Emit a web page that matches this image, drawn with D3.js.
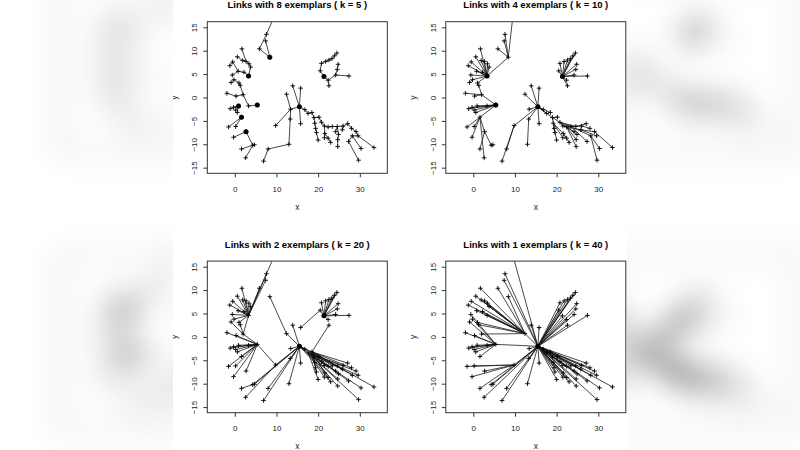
<!DOCTYPE html>
<html>
<head>
<meta charset="utf-8">
<script src="https://cdnjs.cloudflare.com/ajax/libs/d3/7.8.5/d3.min.js"></script>
<style>
  body { margin: 0; background: #fff; }
  svg { display: block; }
</style>
</head>
<body>
<script>
// point coordinates
const ptX = [3.3,1.7,0.6,-0.5,-1.2,1.9,2.7,3.4,3.8,0.8,2.2,-0.6,-0.2,1.0,-0.9,1.3,
  8.4,7.6,7.4,5.9,9.5,
  0.9,5.4,1.6,-1.9,0.3,2.0,3.3,-1.1,-0.3,0.2,0.6,
  2.7,-1.5,0.2,-0.3,1.6,2.6,4.3,4.7,
  21.4,24.5,23.9,23.3,22.6,21.8,20.8,20.5,24.8,24.6,24.2,27.4,22.4,22.6,
  15.5,13.9,15.8,12.4,13.4,13.3,15.8,9.8,13.0,8.0,6.9,16.8,17.6,
  18.5,19.0,20.2,19.2,19.4,19.6,20.0,20.8,21.5,22.4,23.4,24.6,26.0,27.1,25.8,28.0,29.1,29.6,28.2,27.3,30.3,29.7,33.4,24.9,24.7,24.7,23.0,22.4,21.6,21.5,24.2];
const ptY = [4.6,10.4,8.7,7.6,6.8,7.9,7.7,7.2,6.5,5.6,5.4,4.8,3.8,3.1,3.2,2.6,
  8.6,13.5,12.1,10.4,17.4,
  -1.8,-1.6,-4.2,0.9,0.3,0.6,-1.8,-2.4,-2.1,-2.7,-3.2,
  -7.3,-6.3,-6.2,-8.5,-11.0,-12.9,-10.2,-10.1,
  4.5,9.5,8.9,8.3,8.0,7.7,7.3,5.7,7.1,6.0,4.8,4.6,3.7,2.5,
  -2.0,2.5,2.0,0.7,-2.5,-4.6,-5.6,-6.0,-10.0,-11.0,-13.6,-2.6,-3.4,
  -3.2,-4.3,-4.2,-5.5,-6.6,-7.5,-9.1,-5.3,-6.1,-6.3,-6.2,-6.2,-6.1,-5.6,-6.9,-6.6,-7.3,-8.2,-8.2,-9.4,-10.9,-13.4,-10.7,-7.9,-9.0,-10.5,-9.6,-8.7,-7.7,-8.6,-7.3];

// index of the point each point links to (-1 = exemplar)
const links8 = [-1,6,5,9,3,6,7,8,0,10,0,9,13,15,12,26, -1,19,16,16,17,
  -1,-1,-1,25,26,27,22,21,21,21,21, -1,23,23,32,38,38,32,38,
  -1,42,43,44,45,46,47,40,49,50,52,50,40,52,
  -1,54,54,58,54,58,54,58,59,62,63,54,65,
  66,67,68,68,70,71,72,69,74,75,76,77,78,79,79,80,82,83,84,85,85,86,84,78,90,91,94,95,75,95,78];
const links4 = [-1,0,0,0,0,0,0,0,0,0,0,0,0,0,12,26, 0,16,16,16,16,
  22,-1,22,26,26,22,22,22,22,22,22, 23,23,23,23,32,23,32,38,
  -1,40,40,40,40,40,40,40,40,40,40,40,40,40,
  -1,54,54,54,54,54,54,54,59,61,61,54,54,
  54,54,68,68,70,70,71,68,74,74,74,74,75,78,75,79,81,81,77,77,85,85,83,76,76,76,95,95,70,70,76];
const links2 = [26,0,0,0,0,0,0,0,0,0,0,0,0,0,26,26, 57,0,0,0,0,
  22,61,22,22,22,22,22,22,22,22,22, 22,22,22,22,38,61,54,54,
  -1,40,40,40,40,40,40,40,40,40,40,40,40,67,
  -1,54,47,54,54,54,54,54,54,54,54,54,54,
  54,54,54,54,67,67,66,67,67,66,67,67,66,67,66,67,66,66,67,66,66,66,67,67,66,66,66,67,67,66,66];
const links1 = [57,57,57,57,57,57,57,57,57,57,57,22,22,57,22,57, 57,54,54,57,54,
  22,54,22,22,22,57,22,22,22,22,22, 61,61,61,61,61,54,54,54,
  54,54,54,54,54,54,54,54,54,54,54,54,54,54,
  -1,54,54,54,54,54,54,54,54,54,54,54,54,
  54,54,54,54,54,54,54,54,54,54,54,54,54,54,54,54,54,54,54,54,54,54,54,54,54,54,54,54,54,54,54];

const panelLinks = [links8, links4, links2, links1];
const exemplarCounts = [8, 4, 2, 1];
const kValues = [5, 10, 20, 40];
const xTicks = [0, 10, 20, 30];
const yTicks = [-15, -10, -5, 0, 5, 10, 15];

const W = 800, H = 450;
const pageLeft = 173, pageRight = 627;
const font = "'Liberation Sans', Arial, sans-serif";

const svg = d3.select("body").append("svg")
    .attr("width", W)
    .attr("height", H);

const defs = svg.append("defs");
defs.append("filter")
    .attr("id", "blur")
    .attr("filterUnits", "userSpaceOnUse")
    .attr("x", 0).attr("y", 0).attr("width", W).attr("height", H)
  .append("feGaussianBlur")
    .attr("stdDeviation", 15);

function drawPage(root, prefix, withText) {
  root.append("rect")
      .attr("x", pageLeft).attr("y", 0)
      .attr("width", pageRight - pageLeft).attr("height", H)
      .attr("fill", "#fff");

  panelLinks.forEach(function(links, i) {
    var col = i % 2, row = Math.floor(i / 2);
    var left = 207.3 + col * 238.5, top = 21.7 + row * 239.4;
    var width = 180, height = 151.6;

    var x = d3.scaleLinear().domain([-6.6, 36.6]).range([left, left + width]);
    var y = d3.scaleLinear().domain([-16.2, 16.2]).range([top + height, top]);

    var clipId = prefix + "clip" + i;
    defs.append("clipPath").attr("id", clipId)
      .append("rect")
        .attr("x", left).attr("y", top)
        .attr("width", width).attr("height", height);

    var g = root.append("g");
    var plot = g.append("g").attr("clip-path", "url(#" + clipId + ")");

    // links
    plot.selectAll(".link")
        .data(d3.range(ptX.length).filter(function(j) { return links[j] >= 0; }))
        .enter().append("line")
        .attr("x1", function(j) { return x(ptX[j]); })
        .attr("y1", function(j) { return y(ptY[j]); })
        .attr("x2", function(j) { return x(ptX[links[j]]); })
        .attr("y2", function(j) { return y(ptY[links[j]]); })
        .attr("stroke", "#1a1a1a")
        .attr("stroke-width", 0.8);

    // + markers
    plot.selectAll(".pt")
        .data(d3.range(ptX.length))
        .enter().append("path")
        .attr("transform", function(j) { return "translate(" + x(ptX[j]) + "," + y(ptY[j]) + ")"; })
        .attr("d", "M-2.3,0H2.3M0,-2.3V2.3")
        .attr("stroke", "#000")
        .attr("stroke-width", 0.9)
        .attr("fill", "none");

    // exemplars
    plot.selectAll(".ex")
        .data(d3.range(ptX.length).filter(function(j) { return links[j] < 0; }))
        .enter().append("circle")
        .attr("cx", function(j) { return x(ptX[j]); })
        .attr("cy", function(j) { return y(ptY[j]); })
        .attr("r", 2.5)
        .attr("fill", "#000");

    // box
    g.append("rect")
        .attr("x", left).attr("y", top)
        .attr("width", width).attr("height", height)
        .attr("fill", "none")
        .attr("stroke", "#333")
        .attr("stroke-width", 1);

    if (!withText) return;

    // axes
    var xAxis = g.append("g")
        .attr("transform", "translate(0," + (top + height) + ")")
        .call(d3.axisBottom(x).tickValues(xTicks).tickSize(4).tickPadding(9));
    xAxis.select(".domain").remove();
    xAxis.selectAll("line").attr("stroke", "#333");
    xAxis.selectAll("text")
        .style("font-family", font)
        .style("font-size", "8px")
        .attr("fill", "#222");

    var yAxis = g.append("g")
        .attr("transform", "translate(" + left + ",0)")
        .call(d3.axisLeft(y).tickValues(yTicks).tickSize(4));
    yAxis.select(".domain").remove();
    yAxis.selectAll("line").attr("stroke", "#333");
    yAxis.selectAll("text")
        .attr("x", 0)
        .attr("dy", 0)
        .attr("transform", "translate(-10,0) rotate(-90)")
        .attr("text-anchor", "middle")
        .style("font-family", font)
        .style("font-size", "8px")
        .attr("fill", "#222");

    // title and axis labels
    g.append("text")
        .attr("x", left + width / 2)
        .attr("y", top - 13.5)
        .attr("text-anchor", "middle")
        .style("font-family", font)
        .style("font-size", "9.5px")
        .style("font-weight", "bold")
        .text("Links with " + exemplarCounts[i] + " exemplars ( k = " + kValues[i] + " )");

    g.append("text")
        .attr("x", left + width / 2)
        .attr("y", top + height + 36.5)
        .attr("text-anchor", "middle")
        .style("font-family", font)
        .style("font-size", "8.5px")
        .attr("fill", "#222")
        .text("x");

    g.append("text")
        .attr("transform", "translate(" + (left - 30) + "," + (top + height / 2) + ") rotate(-90)")
        .attr("text-anchor", "middle")
        .style("font-family", font)
        .style("font-size", "8.5px")
        .attr("fill", "#222")
        .text("y");
  });
}

// blurred, stretched copy of the page as backdrop (marks only)
var sx = W / (pageRight - pageLeft), sy = 1.16;
var bg = svg.append("g").attr("filter", "url(#blur)");
bg.append("rect").attr("width", W).attr("height", H).attr("fill", "#fff");
var bgInner = bg.append("g")
    .attr("transform", "translate(" + (-pageLeft * sx) + ",-49) scale(" + sx + "," + sy + ")");
drawPage(bgInner, "bg", false);

// the page itself
defs.append("clipPath").attr("id", "pageclip")
  .append("rect")
    .attr("x", pageLeft).attr("y", 0)
    .attr("width", pageRight - pageLeft).attr("height", H);
var fg = svg.append("g").attr("clip-path", "url(#pageclip)");
drawPage(fg, "fg", true);
</script>
</body>
</html>
